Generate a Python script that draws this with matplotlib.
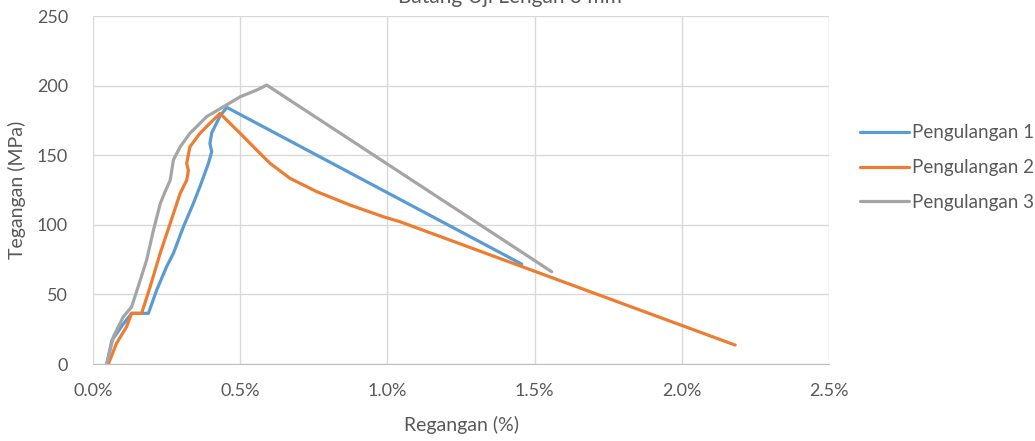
import matplotlib
matplotlib.use("Agg")
import matplotlib.pyplot as plt
from matplotlib.ticker import FuncFormatter, MultipleLocator

plt.rcParams["font.family"] = ["Lato", "DejaVu Sans"]

# ── Data (strain in %, stress in MPa) ─────────────────────────────────────────
series_names = ["Pengulangan 1", "Pengulangan 2", "Pengulangan 3"]

p1_strain = [0.047, 0.064, 0.100, 0.131, 0.188, 0.216, 0.250, 0.273, 0.307, 0.340,
             0.363, 0.392, 0.403, 0.397, 0.403, 0.431, 0.454, 1.456]
p1_stress = [0.5, 17, 28, 36.4, 36.4, 53, 70, 79.5, 98.6, 115,
             127.4, 144.2, 152.5, 158.5, 166, 178, 184.4, 71.8]

p2_strain = [0.052, 0.080, 0.114, 0.131, 0.165, 0.194, 0.228, 0.262, 0.296, 0.318,
             0.324, 0.318, 0.329, 0.363, 0.397, 0.431, 0.500, 0.556, 0.601, 0.669,
             0.760, 0.873, 0.986, 1.043, 2.181]
p2_stress = [0, 15, 26.8, 36.4, 36.4, 55.5, 79.5, 101, 122.6, 132,
             139, 144, 156, 165.7, 172.9, 180, 165.7, 153.7, 144.2, 133.4,
             123.8, 114.2, 105.8, 102.2, 13.6]

p3_strain = [0.047, 0.069, 0.103, 0.131, 0.160, 0.182, 0.205, 0.228, 0.245, 0.262,
             0.273, 0.296, 0.329, 0.386, 0.443, 0.500, 0.556, 0.590, 1.558]
p3_stress = [0.5, 19.6, 34, 41, 60, 74.7, 96, 115, 124, 132,
             146.6, 156, 165.7, 177.7, 184.8, 192, 196.8, 200.4, 66.3]

colors = ["#5B9BD5", "#ED7D31", "#A5A5A5"]
TXT = "#595959"

fig = plt.figure(figsize=(10.35, 4.41), dpi=100)
ax = fig.add_axes([0.0899, 0.1746, 0.7111, 0.7891])

for xs, ys, c, name in zip([p1_strain, p2_strain, p3_strain],
                           [p1_stress, p2_stress, p3_stress], colors, series_names):
    ax.plot(xs, ys, color=c, linewidth=2.3, label=name,
            solid_joinstyle="round", solid_capstyle="round")

ax.set_xlim(0, 2.5)
ax.set_ylim(0, 250)
ax.xaxis.set_major_locator(MultipleLocator(0.5))
ax.yaxis.set_major_locator(MultipleLocator(50))
ax.xaxis.set_major_formatter(FuncFormatter(lambda v, _: f"{v:.1f}%"))
ax.grid(True, color="#D9D9D9", linewidth=1.0)
ax.set_axisbelow(True)
for s in ["top", "right", "left"]:
    ax.spines[s].set_visible(False)
ax.spines["bottom"].set_color("#BFBFBF")
ax.tick_params(length=0, labelsize=13, labelcolor=TXT)
ax.tick_params(axis="x", pad=14)
ax.tick_params(axis="y", pad=18)

ax.set_xlabel("Regangan (%)", fontsize=14, color=TXT, labelpad=12)
ax.set_ylabel("Tegangan (MPa)", fontsize=14, color=TXT, labelpad=8)

# title is clipped at the top edge, as in the reference picture
fig.text(0.493, 0.9935, "Batang Uji Lengan 3 mm", fontsize=15, color=TXT,
         ha="center", va="baseline")

leg = ax.legend(loc="center left", bbox_to_anchor=(0.824, 0.62), bbox_transform=fig.transFigure,
                frameon=False, fontsize=13.5, handlelength=2.6, handletextpad=0.15,
                labelspacing=0.95, borderaxespad=0)
for t in leg.get_texts():
    t.set_color(TXT)

fig.savefig("out.png", dpi=100, facecolor="white")
